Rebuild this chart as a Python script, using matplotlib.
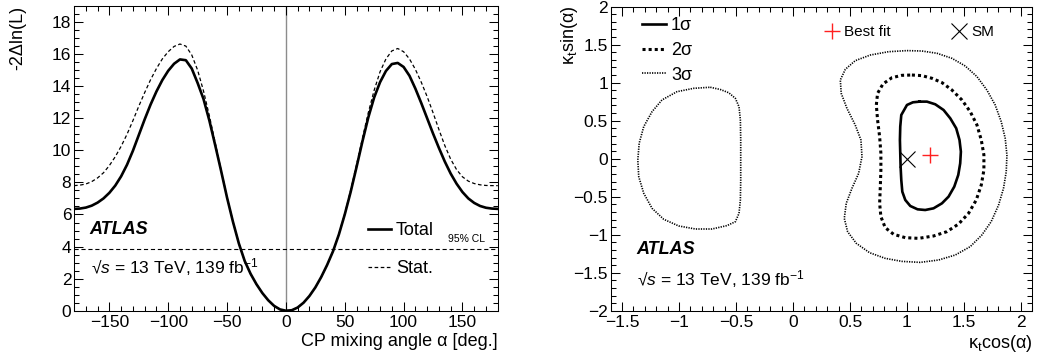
import numpy as np
import matplotlib
matplotlib.use('Agg')
import matplotlib.pyplot as plt
from matplotlib.ticker import MultipleLocator, FuncFormatter

plt.rcParams['font.family'] = ['Liberation Sans', 'DejaVu Sans']
plt.rcParams['mathtext.fontset'] = 'custom'
plt.rcParams['mathtext.rm'] = 'Liberation Sans'
plt.rcParams['mathtext.it'] = 'Liberation Sans:italic'
plt.rcParams['mathtext.bf'] = 'Liberation Sans:bold'
plt.rcParams['lines.scale_dashes'] = False
plt.rcParams['axes.unicode_minus'] = True

# ---------------- data: left panel ----------------
alpha_deg = np.arange(-180, 181, 5)
nll_total = [6.35, 6.37, 6.43, 6.55, 6.74, 7.0, 7.35, 7.8, 8.38, 9.1,
             9.97, 10.95, 11.93, 12.85, 13.67, 14.38, 14.96, 15.4, 15.67, 15.62,
             15.1, 14.2, 13.2, 11.85, 10.3, 8.7, 7.05, 5.55, 4.2, 3.1,
             2.3, 1.65, 1.1, 0.65, 0.3, 0.08, 0.0, 0.03, 0.2, 0.5,
             0.92, 1.45, 2.1, 2.85, 3.7, 4.75, 6.0, 7.4, 8.95, 10.55,
             12.05, 13.3, 14.25, 14.95, 15.38, 15.45, 15.2, 14.65, 13.85, 12.95,
             12.0, 11.05, 10.15, 9.3, 8.55, 7.92, 7.4, 7.0, 6.72, 6.53,
             6.42, 6.37, 6.35]
nll_stat = [7.8, 7.83, 7.9, 8.05, 8.28, 8.6, 9.05, 9.6, 10.25, 11.0,
            11.85, 12.75, 13.6, 14.4, 15.1, 15.7, 16.15, 16.48, 16.63, 16.5,
            15.95, 15.0, 13.7, 12.15, 10.45, 8.75, 7.07, 5.56, 4.2, 3.1,
            2.3, 1.65, 1.1, 0.65, 0.3, 0.08, 0.0, 0.03, 0.2, 0.5,
            0.92, 1.45, 2.1, 2.85, 3.7, 4.77, 6.05, 7.5, 9.1, 10.75,
            12.35, 13.75, 14.9, 15.7, 16.2, 16.35, 16.15, 15.7, 15.05, 14.25,
            13.35, 12.35, 11.3, 10.3, 9.45, 8.8, 8.35, 8.08, 7.93, 7.85,
            7.81, 7.8, 7.8]
cl95_level = 3.84

# ---------------- data: right panel ----------------
c1_x = [1.111, 1.175, 1.248, 1.321, 1.380, 1.432, 1.461, 1.473, 1.467, 1.450,
        1.415, 1.365, 1.307, 1.233, 1.160, 1.093, 1.029, 0.985, 0.959, 0.950,
        0.944, 0.941, 0.938, 0.941, 0.950, 1.000, 1.052]
c1_y = [0.751, 0.751, 0.716, 0.641, 0.531, 0.400, 0.246, 0.093, -0.061, -0.214,
        -0.368, -0.499, -0.587, -0.653, -0.675, -0.666, -0.622, -0.543, -0.434, -0.280,
        -0.105, 0.071, 0.246, 0.422, 0.575, 0.707, 0.742]

c2_x = [1.043, 1.131, 1.219, 1.307, 1.394, 1.482, 1.555, 1.614, 1.652, 1.675,
        1.675, 1.652, 1.608, 1.540, 1.453, 1.350, 1.233, 1.102, 0.985, 0.883,
        0.809, 0.771, 0.760, 0.766, 0.771, 0.771, 0.760, 0.742, 0.731, 0.742,
        0.789, 0.868, 0.956]
c2_y = [1.101, 1.093, 1.058, 1.001, 0.904, 0.773, 0.619, 0.444, 0.246, 0.049,
        -0.149, -0.346, -0.543, -0.719, -0.859, -0.960, -1.017, -1.048, -1.039, -0.995,
        -0.907, -0.763, -0.587, -0.368, -0.149, 0.071, 0.290, 0.509, 0.707, 0.860,
        0.983, 1.066, 1.097]

c3a_x = [1.000, 1.131, 1.263, 1.394, 1.511, 1.614, 1.701, 1.774, 1.827, 1.862,
         1.877, 1.871, 1.847, 1.804, 1.739, 1.657, 1.555, 1.424, 1.277, 1.116,
         0.956, 0.809, 0.672, 0.555, 0.479, 0.450, 0.467, 0.517, 0.576, 0.605,
         0.596, 0.546, 0.473, 0.423, 0.415, 0.459, 0.546, 0.678, 0.839]
c3a_y = [1.422, 1.417, 1.387, 1.321, 1.220, 1.080, 0.904, 0.707, 0.487, 0.268,
         0.049, -0.171, -0.390, -0.609, -0.828, -1.004, -1.157, -1.267, -1.333, -1.364,
         -1.351, -1.311, -1.237, -1.113, -0.960, -0.785, -0.587, -0.390, -0.192, 0.027,
         0.246, 0.443, 0.663, 0.860, 1.036, 1.176, 1.290, 1.364, 1.408]

c3b_x = [-0.726, -0.637, -0.564, -0.506, -0.474, -0.462, -0.459, -0.459, -0.459, -0.462,
         -0.474, -0.506, -0.579, -0.711, -0.857, -1.003, -1.135, -1.237, -1.310, -1.354,
         -1.362, -1.350, -1.310, -1.237, -1.150, -1.018, -0.872]
c3b_y = [0.940, 0.910, 0.868, 0.794, 0.684, 0.509, 0.246, -0.018, -0.281, -0.544,
         -0.719, -0.829, -0.880, -0.925, -0.925, -0.885, -0.797, -0.653, -0.455, -0.236,
         -0.017, 0.203, 0.422, 0.619, 0.773, 0.882, 0.926]

best_fit_x, best_fit_y = [1.2], [0.05]
sm_x, sm_y = [1.0], [0.0]


def closed(a):
    return list(a) + [a[0]]


def style_axes(ax):
    ax.tick_params(which='both', direction='in', top=True, right=True,
                   width=0.75, labelsize=12.5, colors='black')
    ax.tick_params(which='major', length=6.5)
    ax.tick_params(which='minor', length=3.3)
    ax.tick_params(axis='x', which='major', pad=3)
    ax.tick_params(axis='y', which='major', pad=2)
    for s in ax.spines.values():
        s.set_linewidth(0.75)


fig = plt.figure(figsize=(10.37, 3.58), dpi=100)

# ================= left panel =================
axL = fig.add_axes([0.0714, 0.1321, 0.4086, 0.8511])
axL.axvline(0, color='0.55', lw=1.0, zorder=1)
axL.axhline(cl95_level, color='black', lw=0.8, dashes=(3.0, 2.0), zorder=2)
lt, = axL.plot(alpha_deg, nll_total, color='black', lw=1.9, label='Total',
               zorder=4, solid_joinstyle='round')
ls, = axL.plot(alpha_deg, nll_stat, color='black', lw=0.9, dashes=(2.6, 1.8),
               label='Stat.', zorder=3)
axL.set_xlim(-180, 180)
axL.set_ylim(0, 19)
axL.xaxis.set_major_locator(MultipleLocator(50))
axL.xaxis.set_minor_locator(MultipleLocator(10))
axL.yaxis.set_major_locator(MultipleLocator(2))
axL.yaxis.set_minor_locator(MultipleLocator(0.5))
style_axes(axL)

axL.legend(handles=[lt, ls], loc='upper left', bbox_to_anchor=(0.694, 0.29),
           frameon=False, fontsize=13, handlelength=1.25, handletextpad=0.3,
           labelspacing=1.15, borderpad=0, borderaxespad=0)
axL.text(0.036, 0.268, 'ATLAS', transform=axL.transAxes, fontsize=13,
         fontweight='bold', fontstyle='italic', ha='left', va='center')
axL.text(0.039, 0.143, '√$s$ = 13 TeV, 139 fb$^{-1}$', transform=axL.transAxes,
         fontsize=12.5, ha='left', va='center')
axL.text(0.97, 0.236, '95% CL', transform=axL.transAxes, fontsize=7.5,
         ha='right', va='center')

fig.text(498 / 1037, 1 - 342 / 358, 'CP mixing angle α [deg.]', fontsize=13,
         ha='right', va='center')
fig.text(18 / 1037, 1 - 6 / 358, '-2Δln(L)', fontsize=13, rotation=90,
         ha='center', va='top')

# ================= right panel =================
axR = fig.add_axes([0.5889, 0.1321, 0.4066, 0.8492])
h1, = axR.plot(closed(c1_x), closed(c1_y), color='black', lw=1.9, label='1σ',
               solid_joinstyle='round')
h2, = axR.plot(closed(c2_x), closed(c2_y), color='black', lw=2.2,
               dashes=(2.2, 2.2), label='2σ')
h3, = axR.plot(closed(c3a_x), closed(c3a_y), color='black', lw=1.2,
               dashes=(0.9, 0.9), label='3σ')
axR.plot(closed(c3b_x), closed(c3b_y), color='black', lw=1.2, dashes=(0.9, 0.9))
hb, = axR.plot(best_fit_x, best_fit_y, ls='none', marker='+', ms=12, mew=1.0,
               color='#ff2020', label='Best fit')
hs, = axR.plot(sm_x, sm_y, ls='none', marker='x', ms=12, mew=0.8,
               color='black', label='SM')
axR.set_xlim(-1.6, 2.1)
axR.set_ylim(-2, 2)
axR.xaxis.set_major_locator(MultipleLocator(0.5))
axR.xaxis.set_minor_locator(MultipleLocator(0.1))
axR.yaxis.set_major_locator(MultipleLocator(0.5))
axR.yaxis.set_minor_locator(MultipleLocator(0.1))
fmt = FuncFormatter(lambda v, p: ('%g' % v).replace('-', '\u2212'))
axR.xaxis.set_major_formatter(fmt)
axR.yaxis.set_major_formatter(fmt)
style_axes(axR)

leg1 = axR.legend(handles=[h1, h2, h3], loc='upper left',
                  bbox_to_anchor=(0.0742, 0.965), frameon=False, fontsize=13,
                  handlelength=1.35, handletextpad=0.25, labelspacing=0.42,
                  borderpad=0, borderaxespad=0)
axR.add_artist(leg1)
axR.legend(handles=[hb, hs], loc='upper left', bbox_to_anchor=(0.506, 0.94),
           frameon=False, fontsize=11, ncol=2, handlelength=1.0,
           handletextpad=0.3, columnspacing=4.0, borderpad=0, borderaxespad=0)

axR.text(0.0617, 0.20, 'ATLAS', transform=axR.transAxes, fontsize=13,
         fontweight='bold', fontstyle='italic', ha='left', va='center')
axR.text(0.063, 0.103, '√$s$ = 13 TeV, 139 fb$^{-1}$', transform=axR.transAxes,
         fontsize=12.5, ha='left', va='center')

fig.text(1032 / 1037, 1 - 343 / 358, 'κ$_{\\mathrm{t}}$cos(α)', fontsize=13,
         ha='right', va='center')
fig.text(570 / 1037, 1 - 6 / 358, 'κ$_{\\mathrm{t}}$sin(α)', fontsize=13,
         rotation=90, ha='center', va='top')

fig.savefig('out.png', dpi=100)
